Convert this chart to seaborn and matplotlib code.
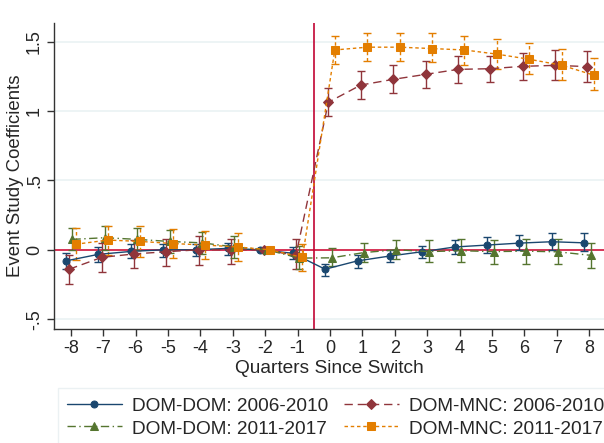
import numpy as np
import pandas as pd
import matplotlib
matplotlib.use("Agg")
import matplotlib.pyplot as plt
import seaborn as sns

quarters = [-8, -7, -6, -5, -4, -3, -2, -1, 0, 1, 2, 3, 4, 5, 6, 7, 8]

dd0610 = [-0.08, -0.033, -0.012, 0.0, 0.0, 0.01, 0.0, -0.025, -0.14, -0.08, -0.045, -0.014, 0.02, 0.034, 0.048, 0.058, 0.05]
dd0610_lo = [-0.14, -0.09, -0.06, -0.05, -0.045, -0.04, 0.0, -0.07, -0.19, -0.13, -0.09, -0.06, -0.03, -0.02, -0.005, 0.0, -0.01]
dd0610_hi = [-0.02, 0.02, 0.04, 0.045, 0.045, 0.05, 0.0, 0.02, -0.10, -0.04, 0.0, 0.03, 0.07, 0.09, 0.105, 0.12, 0.12]

dm0610 = [-0.14, -0.055, -0.03, -0.014, 0.0, 0.0, 0.0, -0.04, 1.063, 1.187, 1.228, 1.264, 1.30, 1.305, 1.322, 1.329, 1.32]
dm0610_lo = [-0.25, -0.16, -0.13, -0.12, -0.11, -0.10, 0.0, -0.14, 0.964, 1.086, 1.128, 1.165, 1.20, 1.21, 1.22, 1.22, 1.21]
dm0610_hi = [-0.04, 0.05, 0.07, 0.08, 0.10, 0.08, 0.0, 0.075, 1.164, 1.288, 1.329, 1.363, 1.40, 1.40, 1.42, 1.44, 1.43]

dd1117 = [0.075, 0.087, 0.075, 0.06, 0.05, 0.02, 0.0, -0.06, -0.058, -0.02, 0.0, -0.013, -0.007, -0.013, -0.01, -0.015, -0.04]
dd1117_lo = [-0.005, 0.0, 0.0, -0.02, -0.03, -0.06, 0.0, -0.14, -0.12, -0.09, -0.07, -0.09, -0.09, -0.10, -0.10, -0.10, -0.13]
dd1117_hi = [0.155, 0.17, 0.16, 0.14, 0.13, 0.10, 0.0, 0.03, 0.01, 0.05, 0.07, 0.07, 0.08, 0.07, 0.08, 0.08, 0.05]

dm1117 = [0.04, 0.07, 0.06, 0.045, 0.034, 0.02, 0.0, -0.055, 1.44, 1.46, 1.46, 1.45, 1.44, 1.41, 1.373, 1.33, 1.258]
dm1117_lo = [-0.075, -0.04, -0.05, -0.06, -0.07, -0.08, 0.0, -0.15, 1.34, 1.36, 1.36, 1.35, 1.33, 1.30, 1.27, 1.22, 1.15]
dm1117_hi = [0.155, 0.17, 0.17, 0.15, 0.135, 0.12, 0.0, 0.04, 1.54, 1.56, 1.56, 1.56, 1.54, 1.52, 1.49, 1.45, 1.38]

labels = ["DOM-DOM: 2006-2010", "DOM-MNC: 2006-2010", "DOM-DOM: 2011-2017", "DOM-MNC: 2011-2017"]
colors = ["#1a476f", "#90353b", "#55752f", "#e37e00"]
markers = ["o", "D", "^", "s"]
msizes = [5, 5, 6, 5.5]
lstyles = ["-", (0, (6, 3.5)), (0, (6, 2.5, 1, 2.5)), (0, (2.5, 2))]
offsets = [-0.15, -0.05, 0.05, 0.15]

series = [(dd0610, dd0610_lo, dd0610_hi), (dm0610, dm0610_lo, dm0610_hi),
          (dd1117, dd1117_lo, dd1117_hi), (dm1117, dm1117_lo, dm1117_hi)]

sns.set_theme(style="white")
plt.rcParams['font.family'] = ['Liberation Sans', 'DejaVu Sans']

fig = plt.figure(figsize=(6.04, 4.43), dpi=100)
ax = fig.add_axes([0.0894, 0.257, 0.9106, 0.691])

for yv in [-0.5, 0.5, 1.0, 1.5]:
    ax.axhline(yv, color="#eaf2f3", lw=1.2, zorder=0)

handles = {}
for (vals, lo, hi), lab, c, m, ms, ls, off in zip(series, labels, colors, markers, msizes, lstyles, offsets):
    x = np.array(quarters) + off
    df = pd.DataFrame({"x": x, "y": vals})
    sns.lineplot(data=df, x="x", y="y", ax=ax, color=c, marker=m, markersize=ms,
                 markeredgecolor=c, linestyle=ls, linewidth=1.0, zorder=3)
    handles[lab] = ax.lines[-1]
    vals_a = np.array(vals)
    err = np.vstack([vals_a - np.array(lo), np.array(hi) - vals_a])
    eb = ax.errorbar(x, vals_a, yerr=err, fmt="none", ecolor=c, elinewidth=1.0,
                     capsize=3, capthick=1.0, zorder=2)
    if lab == labels[3]:
        for lc in eb[2]:
            lc.set_linestyle(ls)

ax.axhline(0, color="#d0103a", lw=1.2, zorder=1)
ax.axvline(-0.5, color="#c10534", lw=1.2, zorder=1)

ax.set_xlim(-8.52, 8.46)
ax.set_ylim(-0.572, 1.634)
ax.set_xticks(quarters)
ax.set_xticklabels([str(q) for q in quarters], fontsize=13)
ax.set_yticks([-0.5, 0, 0.5, 1.0, 1.5])
ax.set_yticklabels(["-.5", "0", ".5", "1", "1.5"], fontsize=13, rotation=90, va="center")
ax.set_xlabel("Quarters Since Switch", fontsize=13.8, labelpad=2)
ax.set_ylabel("Event Study Coefficients", fontsize=13.4, labelpad=1)
ax.tick_params(axis="both", which="both", direction="out", length=5, width=1, color="#333333", pad=3,
               bottom=True, left=True)
for s in ["top", "right"]:
    ax.spines[s].set_visible(False)
for s in ["left", "bottom"]:
    ax.spines[s].set_color("#333333")
    ax.spines[s].set_linewidth(1)

order = [labels[0], labels[2], labels[1], labels[3]]
leg = ax.legend([handles[k] for k in order], order, loc="upper left",
                bbox_to_anchor=(58 / 604, 1 - 388 / 443), bbox_transform=fig.transFigure,
                ncol=2, fontsize=13.7, frameon=True, fancybox=False, handlelength=2.9,
                columnspacing=0.8, handletextpad=0.55, borderpad=0.45, labelspacing=0.22,
                handleheight=0.9, borderaxespad=0)
leg.get_frame().set_edgecolor("#e6eef0")
leg.get_frame().set_linewidth(1)

fig.savefig("out.png", dpi=100)
